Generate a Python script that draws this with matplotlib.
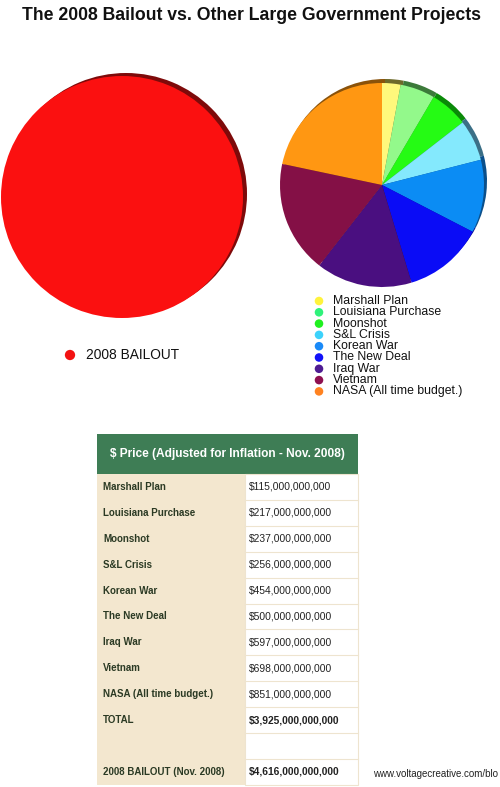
import matplotlib
matplotlib.use("Agg")
import matplotlib.pyplot as plt
from matplotlib.patches import Rectangle

plt.rcParams['font.family'] = ['Liberation Sans', 'DejaVu Sans']

# data (billions of USD, adjusted for inflation - Nov. 2008)
projects = ["Marshall Plan", "Louisiana Purchase", "Moonshot", "S&L Crisis", "Korean War",
            "The New Deal", "Iraq War", "Vietnam", "NASA (All time budget.)"]
costs_bn = [115, 217, 237, 256, 454, 500, 597, 698, 851]
bailout_bn = 4616
bailout_label = "2008 BAILOUT"
bailout_row = "2008 BAILOUT (Nov. 2008)"
header = "$ Price (Adjusted for Inflation - Nov. 2008)"
source = "www.voltagecreative.com/blo"

pie_colors = ["#fff87c", "#93f98b", "#25fb14", "#84e9fd", "#0b8cf4",
              "#0a0cf6", "#4a0f80", "#841046", "#ff9712"]
shadow_colors = ["#6d6a2a", "#3c7a3a", "#0a8a08", "#3b6f86", "#0b4f8a",
                 "#07088a", "#2a0848", "#4a0826", "#8a520a"]
legend_colors = ["#fff33c", "#2ff27a", "#20f020", "#3cd2fb", "#1a8af8",
                 "#1212f8", "#4e1c92", "#8e1050", "#ff8220"]

W, H = 500, 787
fig = plt.figure(figsize=(W / 100, H / 100), dpi=100)
ax = fig.add_axes([0, 0, 1, 1])

def Y(py):
    return H - py

# title
ax.text(252, Y(16), "The 2008 Bailout vs. Other Large Government Projects",
        ha='center', va='center', fontsize=12.7, fontweight='bold', color='#111111')

# big red pie (bailout) with a dark rim
ax.pie([bailout_bn], colors=["#7e0a0a"], center=(126, Y(194)), radius=121,
       startangle=90, counterclock=False, wedgeprops=dict(linewidth=0))
ax.pie([bailout_bn], colors=["#fb1010"], center=(122, Y(197)), radius=121,
       startangle=90, counterclock=False, wedgeprops=dict(linewidth=0))

# small pie of the other projects, with a darker rim behind
ax.pie(costs_bn, colors=shadow_colors, center=(385, Y(181)), radius=102,
       startangle=90, counterclock=False, wedgeprops=dict(linewidth=0))
ax.pie(costs_bn, colors=pie_colors, center=(382, Y(185)), radius=102,
       startangle=90, counterclock=False, wedgeprops=dict(linewidth=0))

# legend of the small pie
for i, (name, c) in enumerate(zip(projects, legend_colors)):
    yy = Y(301 + i * 11.3)
    ax.scatter([319], [yy], s=38, color=c, edgecolors='none')
    ax.text(333, yy, name, ha='left', va='center', fontsize=8.8, color='#111111')

# legend of the big pie
ax.scatter([70], [Y(355)], s=55, color="#f31212", edgecolors='none')
ax.text(86, Y(355), bailout_label, ha='left', va='center', fontsize=9.9, color='#111111')

# table
tx0, tx1, tx2 = 97, 245, 358
top, head_h, row_h = 434, 40, 25.9
ax.add_patch(Rectangle((tx0, Y(top + head_h)), tx2 - tx0, head_h,
                       facecolor="#3e7d55", edgecolor='none'))
ax.text((tx0 + tx2) / 2, Y(top + head_h / 2), header, ha='center', va='center',
        fontsize=8.6, fontweight='bold', color='white')

rows = [(p, "${:,}".format(v * 1_000_000_000), False) for p, v in zip(projects, costs_bn)]
rows.append(("TOTAL", "${:,}".format(sum(costs_bn) * 1_000_000_000), True))
rows.append(("", "", False))
rows.append((bailout_row, "${:,}".format(bailout_bn * 1_000_000_000), True))

body_top = top + head_h
body_h = row_h * len(rows)
ax.add_patch(Rectangle((tx0, Y(body_top + body_h)), tx1 - tx0, body_h,
                       facecolor="#f3e7cf", edgecolor='none'))
ax.add_patch(Rectangle((tx1, Y(body_top + body_h)), tx2 - tx1, body_h,
                       facecolor="white", edgecolor="#eee4cf", linewidth=0.8))
for i, (label, val, bold) in enumerate(rows):
    yc = Y(body_top + (i + 0.5) * row_h)
    if i > 0:
        yl = Y(body_top + i * row_h)
        ax.plot([tx1, tx2], [yl, yl], color="#eee4cf", linewidth=0.8)
    ax.text(103, yc, label, ha='left', va='center', fontsize=7.0,
            fontweight='bold', color='#2b3a24')
    ax.text(249, yc, val, ha='left', va='center', fontsize=7.4,
            fontweight='bold' if bold else 'normal', color='#222222')

# source
ax.text(498, Y(774), source, ha='right', va='center',
        fontsize=7.0, color='#222222')

ax.set_xlim(0, W)
ax.set_ylim(0, H)
ax.set_aspect('auto')
ax.axis('off')
fig.savefig("out.png", dpi=100)
